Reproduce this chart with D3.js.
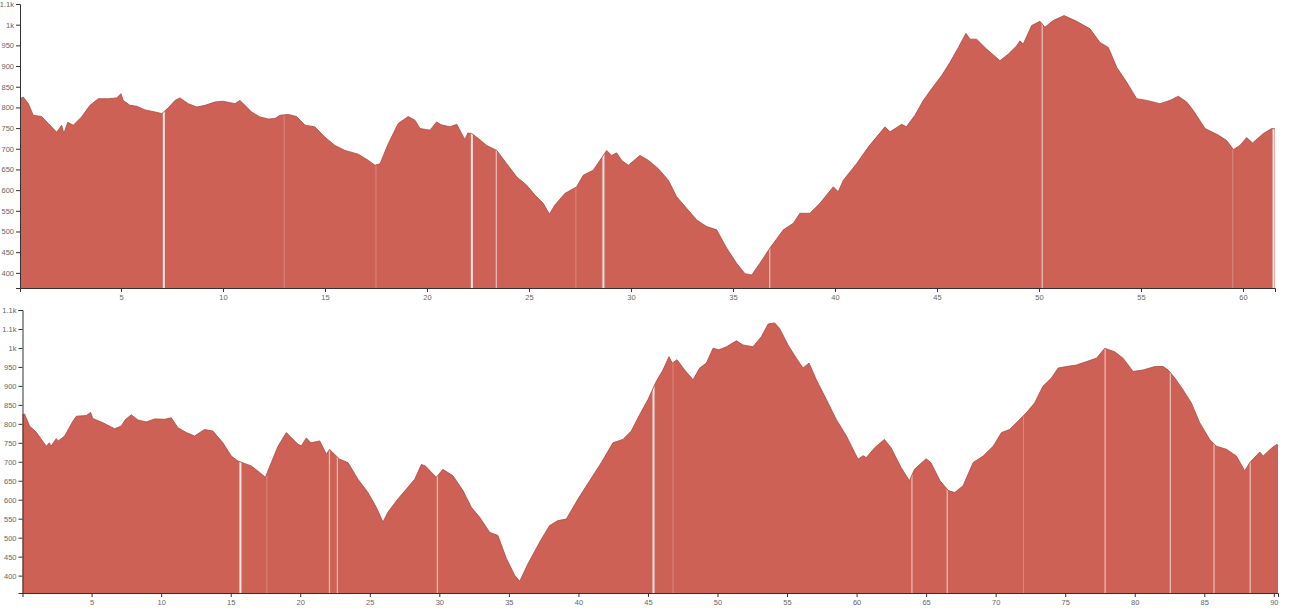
<!DOCTYPE html>
<html>
<head>
<meta charset="utf-8">
<script src="https://cdn.jsdelivr.net/npm/d3@7"></script>
<style>
  html, body { margin: 0; padding: 0; background: #fff; }
  svg { display: block; font-family: "Liberation Sans", Arial, sans-serif; }
  .axis text { fill: #666; font-size: 7.5px; }
  .axis path, .axis line { stroke: #333; }
</style>
</head>
<body>
<svg id="chart" width="1297" height="616"></svg>
<script>
// ---- Data: top profile (distance km, elevation m) ----
const topDist = [0.05,0.21,0.46,0.70,1.11,1.44,1.85,2.09,2.2,2.39,2.66,3.07,3.48,3.89,4.38,4.79,5.0,5.11,5.44,5.77,6.18,6.67,7.0,7.32,7.65,7.89,8.3,8.71,9.12,9.6,10.0,10.59,10.83,11.08,11.4,11.81,12.22,12.55,12.79,13.2,13.61,14.02,14.5,15.0,15.49,15.98,16.63,17.12,17.45,17.7,18.1,18.59,19.08,19.41,19.66,20.15,20.47,20.7,21.13,21.46,21.86,22.0,22.19,22.44,22.93,23.42,23.91,24.4,24.89,25.29,25.7,26.0,26.27,26.76,27.34,27.66,28.15,28.48,28.81,29.05,29.3,29.54,29.87,30.44,30.85,31.34,31.83,32.24,32.73,33.22,33.71,34.2,34.69,35.18,35.59,35.92,36.32,36.81,37.47,37.96,38.28,38.77,39.26,39.92,40.16,40.41,41.06,41.63,42.45,42.7,43.27,43.5,43.92,44.33,44.74,45.23,45.64,46.05,46.42,46.62,46.94,47.43,48.09,48.5,48.91,49.07,49.23,49.64,50.05,50.29,50.7,51.23,51.85,52.5,52.99,53.4,53.81,54.3,54.79,55.28,55.93,56.42,56.83,57.24,57.56,58.14,58.79,59.2,59.53,59.85,60.18,60.47,61.0,61.41,61.57];
const topElev = [821,825,809,781,778,761,740,757,737,764,757,777,805,821,821,823,833,817,805,803,794,789,785,799,817,823,809,801,805,813,815,809,817,805,789,777,772,773,781,783,778,757,753,728,708,696,687,672,660,664,712,761,778,769,749,745,765,758,753,759,722,738,737,728,708,696,664,632,612,588,568,542,564,592,608,636,648,672,696,684,690,672,660,684,672,652,624,584,556,528,512,504,460,423,398,395,423,460,504,520,544,544,568,608,596,624,664,704,753,741,759,753,781,817,845,877,909,945,979,965,965,941,913,929,949,961,953,998,1008,994,1010,1022,1008,990,957,945,897,861,821,817,809,817,827,813,793,749,733,720,698,708,727,714,737,749,748];

// ---- Data: bottom profile ----
const botDist = [0.03,0.18,0.54,1.02,1.74,1.96,2.07,2.46,2.6,3.06,3.65,3.9,4.62,4.93,5.08,5.81,6.65,7.13,7.4,7.85,8.33,8.93,9.53,10.25,10.73,11.2,11.81,12.4,13.12,13.72,14.44,15.04,15.52,16.48,17.08,17.49,17.92,18.4,19.0,19.24,19.84,20.08,20.44,20.76,21.4,21.88,22.11,22.35,22.83,23.43,24.15,24.87,25.47,25.95,26.3,27.02,27.63,28.23,28.71,29.0,29.78,30.26,30.98,31.7,32.3,32.9,33.62,34.21,34.82,35.42,35.78,36.37,37.21,37.93,38.53,39.13,39.97,40.81,41.65,42.48,43.2,43.8,44.4,45.0,45.6,46.08,46.51,46.75,47.09,47.64,48.24,48.72,49.2,49.68,50.1,50.64,51.36,51.83,52.55,53.16,53.64,54.11,54.47,55.07,55.67,56.15,56.58,57.11,57.83,58.55,59.27,60.1,60.47,60.7,61.3,62.0,62.48,63.2,63.8,64.16,65.0,65.34,66.0,66.6,67.06,67.66,68.38,69.1,69.82,70.42,71.0,71.6,72.2,72.8,73.4,74.01,74.49,75.09,75.81,76.53,77.25,77.84,78.56,79.16,79.88,80.6,81.44,82.04,82.4,82.88,83.47,84.07,84.67,85.39,85.87,86.59,87.31,87.91,88.27,88.99,89.23,89.87,90.23,90.3];
const botElev = [824,826,794,778,741,750,741,761,755,768,807,820,822,830,814,803,787,794,810,824,810,805,813,812,816,790,777,768,785,781,750,715,702,689,672,659,698,741,777,768,746,742,763,750,755,720,733,724,707,698,654,619,580,541,567,602,628,654,693,689,659,680,663,624,580,554,514,506,445,401,385,431,488,532,545,549,602,650,698,750,759,781,824,864,912,942,977,960,969,942,916,947,960,999,995,1003,1019,1008,1003,1030,1063,1066,1051,1008,973,947,960,916,864,811,768,707,716,711,737,759,737,685,650,680,708,698,650,624,619,637,698,715,741,777,785,807,829,855,899,921,947,951,955,964,973,999,990,973,938,942,951,951,942,921,890,855,803,759,741,733,715,676,698,726,715,737,746,742];

// ---- Gaps in the recorded track (distance km) ----
const topGapsMajor = [7.1, 22.2, 28.65, 61.5];
const topGapsMinor = [23.4, 36.8, 50.16];
const topGapsFaint = [13.0, 17.5, 27.3, 59.5];
const botGapsMajor = [15.7, 45.4];
const botGapsMinor = [22.1, 22.67, 29.86, 63.98, 66.52, 77.87, 82.56, 85.7, 88.3];
const botGapsFaint = [17.6, 46.8, 72.0];

// ---- Tick values ----
const topXTicks = [5,10,15,20,25,30,35,40,45,50,55,60];
const botXTicks = [5,10,15,20,25,30,35,40,45,50,55,60,65,70,75,80,85,90];
const topYTicks = [400,450,500,550,600,650,700,750,800,850,900,950,1000,1050];
const botYTicks = [400,450,500,550,600,650,700,750,800,850,900,950,1000,1050,1100];

const svg = d3.select("#chart");
const fmt = d3.format(".2~s");

function drawProfile(id, dist, elev, box, xTicks, yTicks, gaps) {
  const data = dist.map((d, i) => ({ d, e: elev[i] }));
  const yMin = d3.min(elev) * 0.92;
  const yMax = Math.ceil(d3.max(elev) / 50) * 50;
  const x = d3.scaleLinear().domain(d3.extent(dist)).range([box.left, box.right]);
  const y = d3.scaleLinear().domain([yMin, yMax]).range([box.bottom, box.top]);

  const g = svg.append("g");
  const area = d3.area().x(p => x(p.d)).y0(y(yMin)).y1(p => y(p.e));
  const line = d3.line().x(p => x(p.d)).y(p => y(p.e));

  g.append("clipPath").attr("id", "clip-" + id)
    .append("path").attr("d", area(data));

  g.append("path").attr("d", area(data)).attr("fill", "#cd6155");

  const gapG = g.append("g").attr("clip-path", `url(#clip-${id})`);
  const styles = [
    { arr: gaps[0], w: 2, o: 0.85 },
    { arr: gaps[1], w: 1.3, o: 0.55 },
    { arr: gaps[2], w: 1, o: 0.25 }
  ];
  styles.forEach(s => {
    gapG.selectAll(null).data(s.arr).enter().append("line")
      .attr("x1", d => x(d)).attr("x2", d => x(d))
      .attr("y1", box.top).attr("y2", box.bottom)
      .attr("stroke", "#fff").attr("stroke-width", s.w).attr("stroke-opacity", s.o);
  });

  g.append("path").attr("d", line(data)).attr("fill", "none")
    .attr("stroke", "#b04a3f").attr("stroke-width", 1).attr("stroke-opacity", 0.8);

  g.append("g").attr("class", "axis")
    .attr("transform", `translate(0,${box.bottom})`)
    .call(d3.axisBottom(x).tickValues(xTicks).tickSize(4).tickPadding(3).tickFormat(d3.format("d")));

  g.append("g").attr("class", "axis")
    .attr("transform", `translate(${box.left},0)`)
    .call(d3.axisLeft(y).tickValues(yTicks).tickSize(4).tickPadding(2).tickFormat(fmt));
}

drawProfile("top", topDist, topElev, { left: 20, right: 1275, top: 4, bottom: 288 },
  topXTicks, topYTicks, [topGapsMajor, topGapsMinor, topGapsFaint]);
drawProfile("bot", botDist, botElev, { left: 22.5, right: 1278, top: 310, bottom: 593 },
  botXTicks, botYTicks, [botGapsMajor, botGapsMinor, botGapsFaint]);
</script>
</body>
</html>
